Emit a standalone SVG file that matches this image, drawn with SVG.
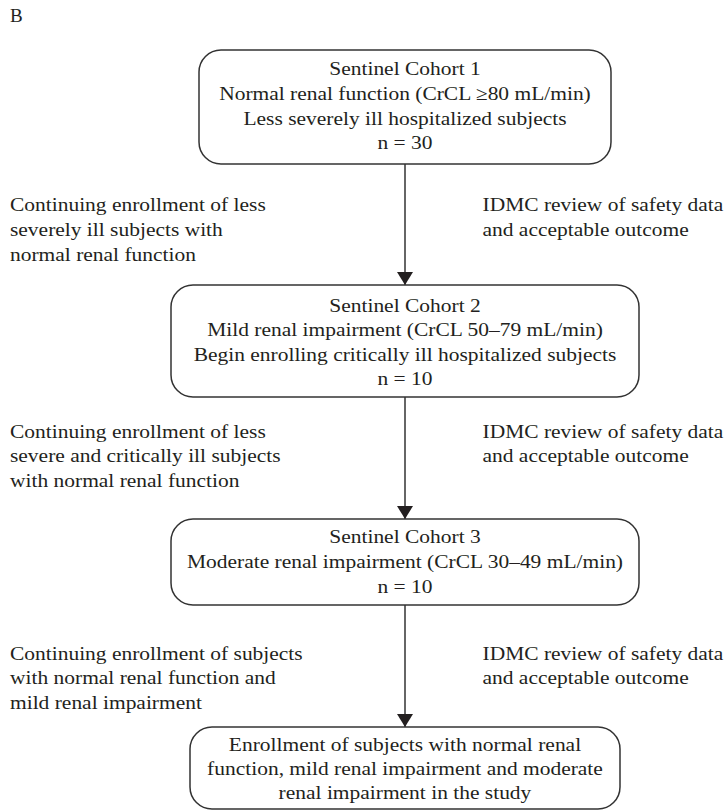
<svg xmlns="http://www.w3.org/2000/svg" width="725" height="812" viewBox="0 0 725 812">
<style>
  .box{fill:#fff;stroke:#333;stroke-width:1.5}
  .t{font-family:"Liberation Serif","Times New Roman",serif;font-size:19px;fill:#231f20}
  .c{text-anchor:middle}
  .ln{stroke:#333;stroke-width:1.5;fill:none}
</style>
<defs>
  <marker id="ah" viewBox="0 0 13 16" refX="13" refY="8" markerWidth="13" markerHeight="16" markerUnits="userSpaceOnUse" orient="auto">
    <path d="M0,0 L13,8 L0,16 Z" fill="#231f20"/>
  </marker>
</defs>
<rect width="725" height="812" fill="#fff"/>
<text class="t" x="10" y="22">B</text>

<g id="connectors">
  <line class="ln" x1="405" y1="164" x2="405" y2="285" marker-end="url(#ah)"/>
  <line class="ln" x1="405" y1="397" x2="405" y2="519" marker-end="url(#ah)"/>
  <line class="ln" x1="405" y1="605" x2="405" y2="727" marker-end="url(#ah)"/>
</g>

<g id="node-cohort1">
  <rect class="box" x="199" y="50" width="412" height="114" rx="22"/>
  <g class="t c" transform="scale(1.13,1)">
    <text x="358.4" y="75">Sentinel Cohort 1</text>
    <text x="358.4" y="100">Normal renal function (CrCL ≥80 mL/min)</text>
    <text x="358.4" y="125">Less severely ill hospitalized subjects</text>
    <text x="358.4" y="149">n = 30</text>
  </g>
</g>

<g id="label-left-1" class="t" transform="scale(1.13,1)">
  <text x="8.85" y="211">Continuing enrollment of less</text>
  <text x="8.85" y="236">severely ill subjects with</text>
  <text x="8.85" y="261">normal renal function</text>
</g>
<g id="label-right-1" class="t" transform="scale(1.13,1)">
  <text x="427" y="211">IDMC review of safety data</text>
  <text x="427" y="236">and acceptable outcome</text>
</g>

<g id="node-cohort2">
  <rect class="box" x="171" y="285" width="468" height="112" rx="22"/>
  <g class="t c" transform="scale(1.13,1)">
    <text x="358.4" y="312">Sentinel Cohort 2</text>
    <text x="358.4" y="336.5">Mild renal impairment (CrCL 50–79 mL/min)</text>
    <text x="358.4" y="361">Begin enrolling critically ill hospitalized subjects</text>
    <text x="358.4" y="385.5">n = 10</text>
  </g>
</g>

<g id="label-left-2" class="t" transform="scale(1.13,1)">
  <text x="8.85" y="438">Continuing enrollment of less</text>
  <text x="8.85" y="462.5">severe and critically ill subjects</text>
  <text x="8.85" y="487">with normal renal function</text>
</g>
<g id="label-right-2" class="t" transform="scale(1.13,1)">
  <text x="427" y="438">IDMC review of safety data</text>
  <text x="427" y="462.5">and acceptable outcome</text>
</g>

<g id="node-cohort3">
  <rect class="box" x="171" y="519" width="468" height="86" rx="22"/>
  <g class="t c" transform="scale(1.13,1)">
    <text x="358.4" y="543.5">Sentinel Cohort 3</text>
    <text x="358.4" y="568.5">Moderate renal impairment (CrCL 30–49 mL/min)</text>
    <text x="358.4" y="593">n = 10</text>
  </g>
</g>

<g id="label-left-3" class="t" transform="scale(1.13,1)">
  <text x="8.85" y="660">Continuing enrollment of subjects</text>
  <text x="8.85" y="684.5">with normal renal function and</text>
  <text x="8.85" y="709">mild renal impairment</text>
</g>
<g id="label-right-3" class="t" transform="scale(1.13,1)">
  <text x="427" y="660">IDMC review of safety data</text>
  <text x="427" y="684.5">and acceptable outcome</text>
</g>

<g id="node-enrollment">
  <rect class="box" x="190" y="727" width="430" height="82" rx="22"/>
  <g class="t c" transform="scale(1.13,1)">
    <text x="358.4" y="751">Enrollment of subjects with normal renal</text>
    <text x="358.4" y="775">function, mild renal impairment and moderate</text>
    <text x="358.4" y="799">renal impairment in the study</text>
  </g>
</g>
</svg>
